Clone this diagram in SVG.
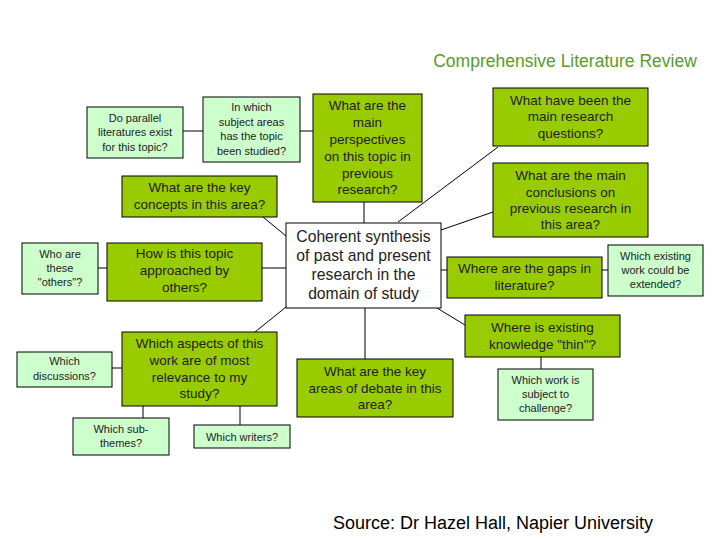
<svg xmlns="http://www.w3.org/2000/svg" width="720" height="540" viewBox="0 0 720 540">
<style>
text{font-family:"Liberation Sans",Arial,sans-serif;fill:#222;text-anchor:middle}
.lt{fill:#ccffcc;stroke:#000;stroke-width:1}
.dk{fill:#99cc00;stroke:#000;stroke-width:1}
.wh{fill:#fff;stroke:#000;stroke-width:1}
.s{font-size:11px}
.m{font-size:13.5px}
.l{font-size:15.7px}
#connectors line{stroke:#000;stroke-width:1}
</style>
<rect width="720" height="540" fill="#fff"/>
<text x="565" y="67" style="font-size:17.5px;fill:#5a9a2a">Comprehensive Literature Review</text>
<g id="connectors">
<line x1="183" y1="131" x2="203" y2="131"/>
<line x1="300" y1="131" x2="313" y2="131"/>
<line x1="364" y1="202" x2="364" y2="223"/>
<line x1="263" y1="217" x2="286" y2="236"/>
<line x1="98" y1="268" x2="107" y2="268"/>
<line x1="262" y1="268" x2="286" y2="268"/>
<line x1="255" y1="332" x2="286" y2="307"/>
<line x1="112" y1="368" x2="122" y2="368"/>
<line x1="143" y1="406" x2="143" y2="418"/>
<line x1="240" y1="406" x2="240" y2="425"/>
<line x1="365" y1="308" x2="365" y2="359"/>
<line x1="398" y1="222" x2="498" y2="147"/>
<line x1="441" y1="230" x2="493" y2="212"/>
<line x1="441" y1="270" x2="447" y2="270"/>
<line x1="602" y1="270" x2="608" y2="270"/>
<line x1="437" y1="308" x2="465" y2="325"/>
<line x1="541" y1="357" x2="541" y2="369"/>
</g>
<g id="parallel"><rect class="lt" x="87" y="107" width="96" height="51"/>
<text class="s" x="135" y="122">Do parallel</text><text class="s" x="135" y="136">literatures exist</text><text class="s" x="135" y="151">for this topic?</text></g>
<g id="subject"><rect class="lt" x="203" y="97" width="97" height="65"/>
<text class="s" x="251.5" y="111">In which</text><text class="s" x="251.5" y="126">subject areas</text><text class="s" x="251.5" y="140">has the topic</text><text class="s" x="251.5" y="155">been studied?</text></g>
<g id="concepts"><rect class="dk" x="122" y="176" width="155" height="41"/>
<text class="m" x="199.5" y="192">What are the key</text><text class="m" x="199.5" y="209">concepts in this area?</text></g>
<g id="perspectives"><rect class="dk" x="313" y="94" width="109" height="108"/>
<text class="m" x="367.5" y="110">What are the</text><text class="m" x="367.5" y="127">main</text><text class="m" x="367.5" y="144">perspectives</text><text class="m" x="367.5" y="161">on this topic in</text><text class="m" x="367.5" y="178">previous</text><text class="m" x="367.5" y="194">research?</text></g>
<g id="synthesis"><rect class="wh" x="286" y="223" width="155" height="85"/>
<text class="l" x="363.5" y="242">Coherent synthesis</text><text class="l" x="363.5" y="261">of past and present</text><text class="l" x="363.5" y="280">research in the</text><text class="l" x="363.5" y="299">domain of study</text></g>
<g id="questions"><rect class="dk" x="493" y="88" width="155" height="58"/>
<text class="m" x="570.5" y="105">What have been the</text><text class="m" x="570.5" y="121">main research</text><text class="m" x="570.5" y="138">questions?</text></g>
<g id="conclusions"><rect class="dk" x="493" y="163" width="155" height="74"/>
<text class="m" x="570.5" y="180">What are the main</text><text class="m" x="570.5" y="197">conclusions on</text><text class="m" x="570.5" y="213">previous research in</text><text class="m" x="570.5" y="229">this area?</text></g>
<g id="gaps"><rect class="dk" x="447" y="257" width="155" height="41"/>
<text class="m" x="524.5" y="273">Where are the gaps in</text><text class="m" x="524.5" y="290">literature?</text></g>
<g id="extended"><rect class="lt" x="608" y="245" width="95" height="51"/>
<text class="s" x="655.5" y="260">Which existing</text><text class="s" x="655.5" y="274">work could be</text><text class="s" x="655.5" y="288">extended?</text></g>
<g id="thin"><rect class="dk" x="465" y="315" width="155" height="42"/>
<text class="m" x="542.5" y="332">Where is existing</text><text class="m" x="542.5" y="349">knowledge "thin"?</text></g>
<g id="challenge"><rect class="lt" x="498" y="369" width="95" height="51"/>
<text class="s" x="545.5" y="384">Which work is</text><text class="s" x="545.5" y="398">subject to</text><text class="s" x="545.5" y="412">challenge?</text></g>
<g id="debate"><rect class="dk" x="297" y="359" width="156" height="58"/>
<text class="m" x="375" y="376">What are the key</text><text class="m" x="375" y="393">areas of debate in this</text><text class="m" x="375" y="409">area?</text></g>
<g id="others"><rect class="lt" x="22" y="243" width="76" height="51"/>
<text class="s" x="60" y="258">Who are</text><text class="s" x="60" y="272">these</text><text class="s" x="60" y="286">"others"?</text></g>
<g id="approached"><rect class="dk" x="107" y="243" width="155" height="58"/>
<text class="m" x="184.5" y="258">How is this topic</text><text class="m" x="184.5" y="275">approached by</text><text class="m" x="184.5" y="292">others?</text></g>
<g id="aspects"><rect class="dk" x="122" y="332" width="155" height="74"/>
<text class="m" x="199.5" y="348">Which aspects of this</text><text class="m" x="199.5" y="365">work are of most</text><text class="m" x="199.5" y="382">relevance to my</text><text class="m" x="199.5" y="398">study?</text></g>
<g id="discussions"><rect class="lt" x="17" y="352" width="95" height="35"/>
<text class="s" x="64.5" y="365">Which</text><text class="s" x="64.5" y="380">discussions?</text></g>
<g id="subthemes"><rect class="lt" x="73" y="418" width="96" height="37"/>
<text class="s" x="121" y="433">Which sub-</text><text class="s" x="121" y="447">themes?</text></g>
<g id="writers"><rect class="lt" x="194" y="425" width="96" height="23"/>
<text class="s" x="242" y="441">Which writers?</text></g>
<text x="493" y="529" style="font-size:18px;fill:#000">Source: Dr Hazel Hall, Napier University</text>
</svg>
